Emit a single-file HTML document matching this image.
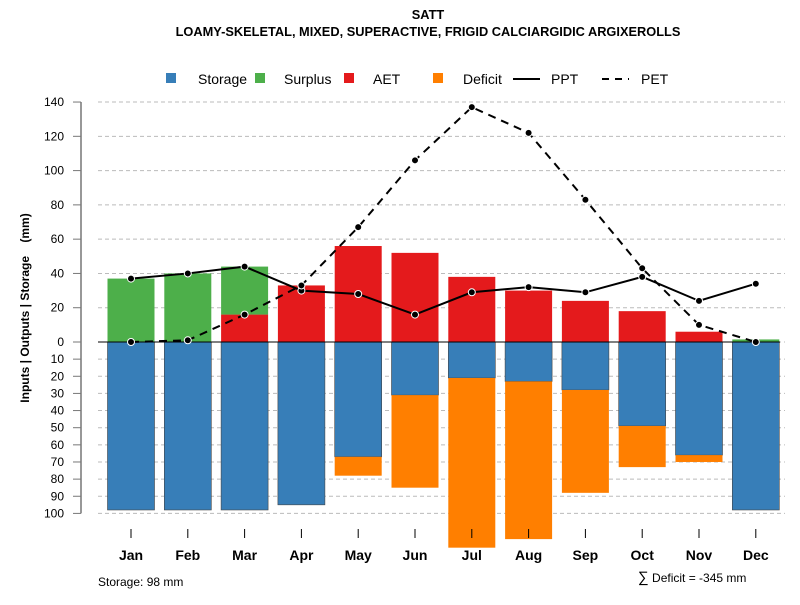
<!DOCTYPE html>
<html><head><meta charset="utf-8"><style>
body{margin:0;background:#fff;font-family:"Liberation Sans",sans-serif}
</style></head><body>
<svg id="c" width="800" height="600" xmlns="http://www.w3.org/2000/svg" font-family="Liberation Sans, sans-serif">
<text x="428" y="19" text-anchor="middle" font-size="12.8" font-weight="bold">SATT</text>
<text x="428" y="36" text-anchor="middle" font-size="12.8" font-weight="bold">LOAMY-SKELETAL, MIXED, SUPERACTIVE, FRIGID CALCIARGIDIC ARGIXEROLLS</text>
<g id="legend" font-size="14">
<g><rect x="166" y="73" width="10" height="10" fill="#377eb8"/><text x="198" y="84">Storage</text></g>
<g><rect x="255" y="73" width="10" height="10" fill="#4daf4a"/><text x="284" y="84">Surplus</text></g>
<g><rect x="344" y="73" width="10" height="10" fill="#e41a1c"/><text x="373" y="84">AET</text></g>
<g><rect x="433" y="73" width="10" height="10" fill="#ff7f00"/><text x="463" y="84">Deficit</text></g>
<g><line x1="513" y1="79" x2="540" y2="79" stroke="#000" stroke-width="2"/><text x="551" y="84">PPT</text></g>
<g><line x1="602" y1="79" x2="629" y2="79" stroke="#000" stroke-width="2" stroke-dasharray="7,6"/><text x="641" y="84">PET</text></g>
</g>
<text transform="translate(29,308) rotate(-90)" text-anchor="middle" font-size="12" font-weight="bold">Inputs | Outputs | Storage&#160;&#160;&#160;&#160;(mm)</text>
<g id="grid"></g><g id="bars"></g><g id="lines"></g><g id="axes"></g>
<text x="98" y="586" font-size="12">Storage: 98 mm</text>
<text x="638" y="582" font-size="12"><tspan font-size="15">∑</tspan> Deficit = -345 mm</text>
</svg>
<script>
const months=["Jan","Feb","Mar","Apr","May","Jun","Jul","Aug","Sep","Oct","Nov","Dec"];
const ppt=[37,40,44,30,28,16,29,32,29,38,24,34];
const pet=[0,1,16,33,67,106,137,122,83,43,10,0];
const aet=[0,0,16,33,56,52,38,30,24,18,6,0];
const surplus=[37,40,28,0,0,0,0,0,0,0,0,1.5];
const storage=[98,98,98,95,67,31,21,23,28,49,66,98];
const deficit=[0,0,0,0,11,54,99,92,60,24,4,0];
const topTicks=[0,20,40,60,80,100,120,140];
const botTicks=[10,20,30,40,50,60,70,80,90,100];
const NS="http://www.w3.org/2000/svg";
const y0=342,k=1.714;
const yUp=v=>y0-v*k, yDn=v=>y0+v*k;
const xm=i=>131+i*56.8;
function mk(p,t,a){const e=document.createElementNS(NS,t);for(const q in a)e.setAttribute(q,a[q]);document.getElementById(p).appendChild(e);return e;}
topTicks.forEach(v=>{
 const g=mk("grid","line",{x1:98,x2:785,y1:yUp(v),y2:yUp(v),stroke:"#bbb","stroke-dasharray":"4,3"});
 
 
 mk("axes","line",{x1:73,x2:81,y1:yUp(v),y2:yUp(v),stroke:"#777"});
 const l=mk("axes","text",{x:64,y:yUp(v)+4,"text-anchor":"end","font-size":12});l.textContent=v;
 
 
});
botTicks.forEach(v=>{
 const g=mk("grid","line",{x1:98,x2:785,y1:yDn(v),y2:yDn(v),stroke:"#bbb","stroke-dasharray":"4,3"});
 
 
 mk("axes","line",{x1:73,x2:81,y1:yDn(v),y2:yDn(v),stroke:"#777"});
 const l=mk("axes","text",{x:64,y:yDn(v)+4,"text-anchor":"end","font-size":12});l.textContent=v;
 
 
});
mk("axes","line",{x1:81,x2:81,y1:yUp(140),y2:yDn(100),stroke:"#777","stroke-width":1.5});
const bw=47;
months.forEach((m,i)=>{
 const x=xm(i)-bw/2;
 let r;
 if(aet[i]>0){r=mk("bars","rect",{x:x,y:yUp(aet[i]),width:bw,height:aet[i]*k,fill:"#e41a1c"});
 }
 if(surplus[i]>0){r=mk("bars","rect",{x:x,y:yUp(aet[i]+surplus[i]),width:bw,height:surplus[i]*k,fill:"#4daf4a"});
 }
 r=mk("bars","rect",{x:x,y:y0,width:bw,height:storage[i]*k,fill:"#377eb8",stroke:"#444","stroke-width":0.6});
 
 if(deficit[i]>0){r=mk("bars","rect",{x:x,y:yDn(storage[i]),width:bw,height:deficit[i]*k,fill:"#ff7f00"});
 }
 mk("axes","line",{x1:xm(i),x2:xm(i),y1:529,y2:538,stroke:"#000"});
 const l=mk("axes","text",{x:xm(i),y:560,"text-anchor":"middle","font-size":14,"font-weight":"bold"});l.textContent=m;
 
 
});
mk("bars","line",{x1:98,x2:780,y1:y0,y2:y0,stroke:"#000","stroke-width":1});
function series(arr,dash,name){
 const p=mk("lines","polyline",{points:arr.map((v,i)=>xm(i)+","+yUp(v)).join(" "),fill:"none",stroke:"#000","stroke-width":2,"stroke-dasharray":dash});
 
 
 arr.forEach((v,i)=>{const c=mk("lines","circle",{cx:xm(i),cy:yUp(v),r:3.5,fill:"#000",stroke:"#fff","stroke-width":1});
 
 });
}
series(ppt,"none","ppt");
series(pet,"8,6","pet");
</script>
</body></html>
